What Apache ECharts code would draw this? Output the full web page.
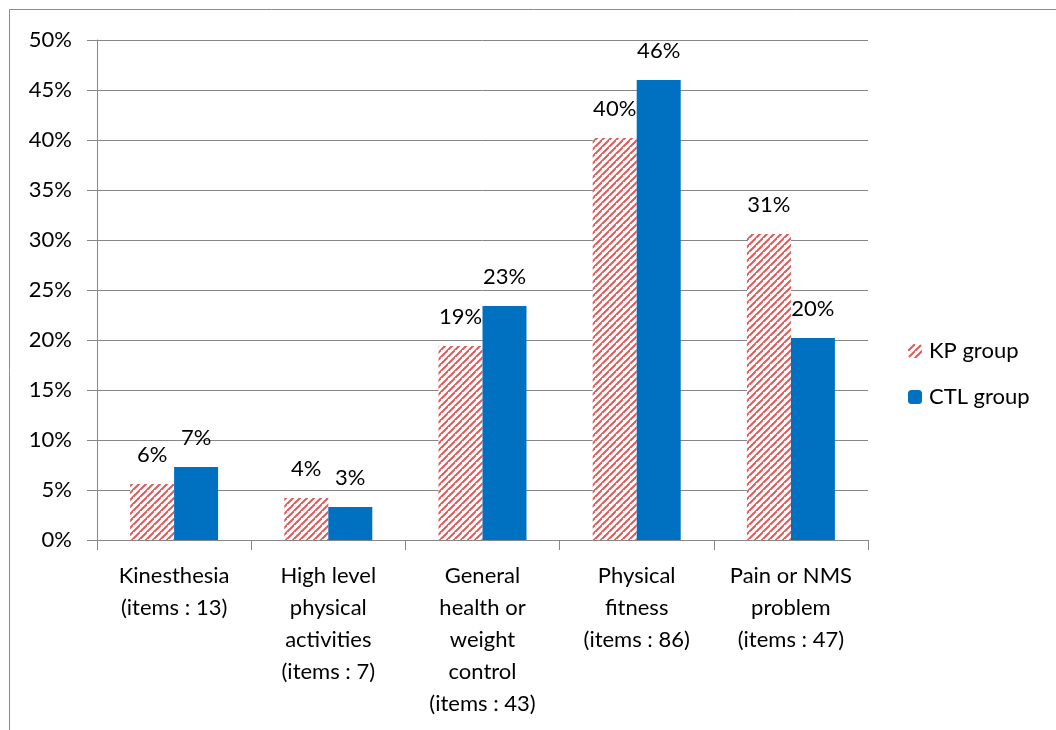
<!DOCTYPE html>
<html>
<head>
<meta charset="utf-8">
<script src="https://cdn.jsdelivr.net/npm/echarts@6/dist/echarts.min.js"></script>
<style>
html,body{margin:0;padding:0;background:#fff;}
#chart{width:1056px;height:730px;}
</style>
</head>
<body>
<div id="chart"></div>
<script>
const categories = [
  'Kinesthesia\n(items : 13)',
  'High level\nphysical\nactivities\n(items : 7)',
  'General\nhealth or\nweight\ncontrol\n(items : 43)',
  'Physical\nfitness\n(items : 86)',
  'Pain or NMS\nproblem\n(items : 47)'
];
const kpValues = [5.6, 4.2, 19.4, 40.2, 30.6];
const ctlValues = [7.3, 3.3, 23.4, 46.0, 20.2];
const seriesNames = ['KP group', 'CTL group'];

function makeHatch() {
  const c = document.createElement('canvas');
  c.width = 7; c.height = 7;
  const g = c.getContext('2d');
  g.fillStyle = '#ffffff';
  g.fillRect(0, 0, 7, 7);
  g.strokeStyle = '#e05a5a';
  g.lineWidth = 2;
  g.beginPath();
  g.moveTo(-1, 8); g.lineTo(8, -1);
  g.moveTo(-4.5, 3.5); g.lineTo(3.5, -4.5);
  g.moveTo(3.5, 10.5); g.lineTo(10.5, 3.5);
  g.stroke();
  return c;
}
const hatch = { image: makeHatch(), repeat: 'repeat' };
const FONT = 'Lato';
const FS = 22;

const chart = echarts.init(document.getElementById('chart'), null, { renderer: 'canvas' });
const labelCfg = {
  show: true, position: 'top', distance: 18,
  color: '#000', fontSize: FS, fontFamily: FONT,
  formatter: p => Math.round(p.value) + '%'
};
chart.setOption({
  backgroundColor: '#fff',
  animation: false,
  graphic: [{
    type: 'rect', shape: { x: 9.5, y: 9.5, width: 1200, height: 900 },
    style: { fill: 'none', stroke: '#8c8c8c', lineWidth: 1 }, silent: true
  }],
  grid: { left: 97, right: 188, top: 40, bottom: 190 },
  legend: {
    orient: 'vertical', left: 903, top: 335, itemGap: 24,
    itemWidth: 14, itemHeight: 14,
    textStyle: { fontSize: FS, fontFamily: FONT, color: '#000', padding: [0, 0, 0, 2] },
    data: seriesNames
  },
  xAxis: {
    type: 'category', data: categories,
    axisLine: { lineStyle: { color: '#868686' } },
    axisTick: { show: true, length: 10, lineStyle: { color: '#868686' } },
    axisLabel: { color: '#000', fontSize: FS, fontFamily: FONT, lineHeight: 32, margin: 20, interval: 0 }
  },
  yAxis: {
    type: 'value', min: 0, max: 50, interval: 5,
    axisLine: { show: true, lineStyle: { color: '#868686' } },
    axisTick: { show: true, length: 10, inside: false, lineStyle: { color: '#868686' } },
    splitLine: { lineStyle: { color: '#868686' } },
    axisLabel: { color: '#000', fontSize: FS, fontFamily: FONT, margin: 25, formatter: v => v + '%' }
  },
  series: [
    {
      name: seriesNames[0], type: 'bar', data: kpValues, barWidth: 44, barGap: '0%',
      itemStyle: { color: hatch }, label: labelCfg
    },
    {
      name: seriesNames[1], type: 'bar', data: ctlValues, barWidth: 44, barGap: '0%',
      itemStyle: { color: '#0070c0' }, label: labelCfg
    }
  ]
});
</script>
</body>
</html>
